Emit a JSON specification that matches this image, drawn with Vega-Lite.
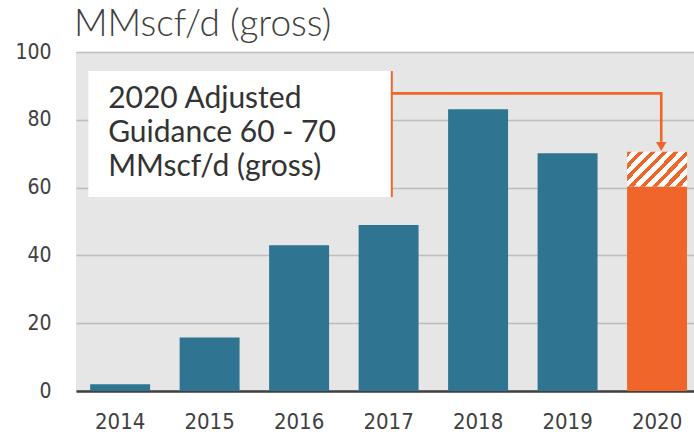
{
  "$schema": "https://vega.github.io/schema/vega-lite/v6.json",
  "autosize": {"type": "none"},
  "width": 618,
  "height": 339,
  "padding": {"left": 76, "top": 52, "right": 0, "bottom": 47},
  "background": "#ffffff",
  "title": {
    "text": "MMscf/d (gross)",
    "anchor": "start",
    "frame": "group",
    "font": "Lato",
    "fontWeight": 300,
    "fontSize": 37,
    "color": "#404040",
    "baseline": "alphabetic",
    "offset": 8,
    "dy": 40,
    "dx": -2
  },
  "config": {
    "view": {"fill": "#e6e6e6", "stroke": null},
    "axis": {"labelFont": "DejaVu Sans Condensed", "labelColor": "#404040"}
  },
  "datasets": {
    "bars": [
      {"year": "2014", "lo": 0, "hi": 2.0, "kind": "actual"},
      {"year": "2015", "lo": 0, "hi": 15.8, "kind": "actual"},
      {"year": "2016", "lo": 0, "hi": 43.0, "kind": "actual"},
      {"year": "2017", "lo": 0, "hi": 49.0, "kind": "actual"},
      {"year": "2018", "lo": 0, "hi": 83.1, "kind": "actual"},
      {"year": "2019", "lo": 0, "hi": 70.1, "kind": "actual"},
      {"year": "2020", "lo": 0, "hi": 60.3, "kind": "guidance_low"},
      {"year": "2020", "lo": 60.3, "hi": 70.6, "kind": "guidance_range"}
    ],
    "box": [{"x1": 2.0, "x2": 51.1, "y1": 57.2, "y2": 94.4, "label": "2020 Adjusted\nGuidance 60 - 70\nMMscf/d (gross)", "tx": 5.2, "ty": 90.6}],
    "connector": [
      {"order": 1, "x": 51.1, "y": 87.8},
      {"order": 2, "x": 94.7, "y": 87.8},
      {"order": 3, "x": 94.7, "y": 73.5}
    ],
    "arrow": [{"x": 94.7, "y": 72.1}]
  },
  "layer": [
    {
      "layer": [
        {
          "data": {"name": "bars"},
          "transform": [{"filter": "datum.kind === 'actual'"}],
          "mark": {"type": "bar", "color": "#2f7592"},
          "encoding": {
            "x": {
              "field": "year", "type": "nominal", "title": null, "sort": null,
              "scale": {"paddingInner": 0.33, "paddingOuter": 0.118, "align": 0.67},
              "axis": {"labelAngle": 0, "labelFontSize": 22, "labelPadding": 20, "ticks": false, "domain": true, "domainColor": "#404040", "domainWidth": 2.5, "grid": false}
            },
            "y": {
              "field": "hi", "type": "quantitative", "title": null,
              "scale": {"domain": [0, 100], "nice": false},
              "axis": {"values": [0, 20, 40, 60, 80, 100], "labelFontSize": 21, "labelPadding": 25, "ticks": false, "domain": false, "grid": true, "gridColor": "#bdbdbd", "gridWidth": 1.7}
            },
            "y2": {"field": "lo"}
          }
        },
        {
          "data": {"name": "bars"},
          "transform": [{"filter": "datum.kind === 'guidance_low'"}],
          "mark": {"type": "bar", "color": "#f0652a"},
          "encoding": {
            "x": {"field": "year", "type": "nominal", "sort": null},
            "y": {"field": "hi", "type": "quantitative"},
            "y2": {"field": "lo"}
          }
        },
        {
          "data": {"name": "bars"},
          "transform": [{"filter": "datum.kind === 'guidance_range'"}],
          "mark": {
            "type": "bar",
            "color": {
              "gradient": "linear",
              "x1": 0, "y1": 0, "x2": 1.186, "y2": 0.673,
              "stops": [
                {"offset": 0.0, "color": "#f0652a"}, {"offset": 0.055, "color": "#f0652a"}, {"offset": 0.055, "color": "#ffffff"}, {"offset": 0.125, "color": "#ffffff"},
                {"offset": 0.125, "color": "#f0652a"}, {"offset": 0.18, "color": "#f0652a"}, {"offset": 0.18, "color": "#ffffff"}, {"offset": 0.25, "color": "#ffffff"},
                {"offset": 0.25, "color": "#f0652a"}, {"offset": 0.305, "color": "#f0652a"}, {"offset": 0.305, "color": "#ffffff"}, {"offset": 0.375, "color": "#ffffff"},
                {"offset": 0.375, "color": "#f0652a"}, {"offset": 0.43, "color": "#f0652a"}, {"offset": 0.43, "color": "#ffffff"}, {"offset": 0.5, "color": "#ffffff"},
                {"offset": 0.5, "color": "#f0652a"}, {"offset": 0.555, "color": "#f0652a"}, {"offset": 0.555, "color": "#ffffff"}, {"offset": 0.625, "color": "#ffffff"},
                {"offset": 0.625, "color": "#f0652a"}, {"offset": 0.68, "color": "#f0652a"}, {"offset": 0.68, "color": "#ffffff"}, {"offset": 0.75, "color": "#ffffff"},
                {"offset": 0.75, "color": "#f0652a"}, {"offset": 0.805, "color": "#f0652a"}, {"offset": 0.805, "color": "#ffffff"}, {"offset": 0.875, "color": "#ffffff"},
                {"offset": 0.875, "color": "#f0652a"}, {"offset": 0.93, "color": "#f0652a"}, {"offset": 0.93, "color": "#ffffff"}, {"offset": 1.0, "color": "#ffffff"}
              ]
            }
          },
          "encoding": {
            "x": {"field": "year", "type": "nominal", "sort": null},
            "y": {"field": "hi", "type": "quantitative"},
            "y2": {"field": "lo"}
          }
        }
      ]
    },
    {
      "layer": [
        {
          "data": {"name": "box"},
          "mark": {"type": "rect", "color": "#ffffff"},
          "encoding": {
            "x": {"field": "x1", "type": "quantitative", "scale": {"domain": [0, 100], "nice": false, "zero": false}, "axis": null},
            "x2": {"field": "x2"},
            "y": {"field": "y1", "type": "quantitative"},
            "y2": {"field": "y2"}
          }
        },
        {
          "data": {"name": "box"},
          "mark": {"type": "rule", "color": "#f0652a", "strokeWidth": 2},
          "encoding": {
            "x": {"field": "x2", "type": "quantitative", "scale": {"domain": [0, 100], "nice": false, "zero": false}, "axis": null},
            "y": {"field": "y1", "type": "quantitative"},
            "y2": {"field": "y2"}
          }
        },
        {
          "data": {"name": "box"},
          "mark": {"type": "text", "align": "left", "baseline": "top", "lineBreak": "\n", "lineHeight": 34, "font": "Lato", "fontSize": 30, "color": "#333333"},
          "encoding": {
            "x": {"field": "tx", "type": "quantitative", "scale": {"domain": [0, 100], "nice": false, "zero": false}, "axis": null},
            "y": {"field": "ty", "type": "quantitative"},
            "text": {"field": "label"}
          }
        },
        {
          "data": {"name": "connector"},
          "mark": {"type": "line", "color": "#f0652a", "strokeWidth": 2.6, "interpolate": "linear"},
          "encoding": {
            "x": {"field": "x", "type": "quantitative", "scale": {"domain": [0, 100], "nice": false, "zero": false}, "axis": null},
            "y": {"field": "y", "type": "quantitative"},
            "order": {"field": "order"}
          }
        },
        {
          "data": {"name": "arrow"},
          "mark": {"type": "point", "shape": "triangle-down", "filled": true, "color": "#f0652a", "size": 110, "opacity": 1},
          "encoding": {
            "x": {"field": "x", "type": "quantitative", "scale": {"domain": [0, 100], "nice": false, "zero": false}, "axis": null},
            "y": {"field": "y", "type": "quantitative"}
          }
        }
      ]
    }
  ],
  "resolve": {"scale": {"x": "independent"}, "axis": {"x": "independent"}}
}
